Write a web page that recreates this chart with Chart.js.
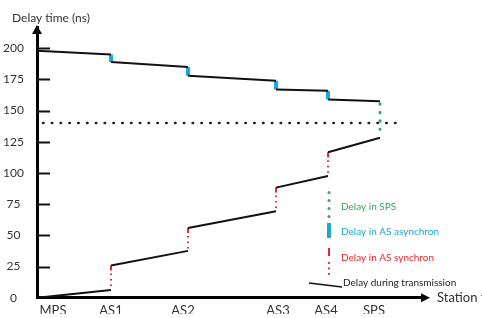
<!DOCTYPE html>
<html lang="en">
<head>
    <meta charset="UTF-8">
    <title>Delay time</title>
    <script src="https://cdn.jsdelivr.net/npm/chart.js"></script>
    <style>
        html, body { margin: 0; padding: 0; background: #fff; }
        #wrap { width: 482px; height: 318px; }
    </style>
</head>
<body>
    <div id="wrap"><canvas id="delayChart"></canvas></div>
    <script>
        // stations along the x axis (distance from MPS)
        const stations = ['MPS', 'AS1', 'AS2', 'AS3', 'AS4', 'SPS'];
        const stationX = [0, 74, 151, 239, 291, 343];
        const labelX = [16, 74, 146, 241, 289, 337];
        const yTicks = [0, 25, 50, 75, 100, 125, 150, 175, 200];

        // upper branch: value leaving a station / arriving at the next one
        const upperStart = [198, 189, 178, 167, 159];
        const upperEnd = [195, 185, 174, 166, 157.5];
        // lower branch
        const lowerStart = [0, 25.8, 56, 88.3, 116.7];
        const lowerEnd = [6.3, 37.6, 69.4, 97.6, 128.3];
        // delay in SPS (green) and the dotted reference level
        const spsTop = 155.5;
        const spsBottom = 135;
        const refLevel = 140;
        const refFrom = 6;
        const refTo = 363;

        const legendItems = [
            { label: 'Delay in SPS', color: '#2bab62' },
            { label: 'Delay in AS asynchron', color: '#1ca6e0' },
            { label: 'Delay in AS synchron', color: '#e5282b' },
            { label: 'Delay during transmission', color: '#222' }
        ];

        // build gapped point lists
        function segs(starts, ends) {
            const pts = [];
            for (let i = 0; i < starts.length; i++) {
                pts.push({x: stationX[i], y: starts[i]});
                pts.push({x: stationX[i + 1], y: ends[i]});
                pts.push({x: stationX[i + 1], y: null});
            }
            return pts;
        }
        // vertical jumps at AS1..AS4, from -> to
        function jumps(from, to) {
            const pts = [];
            for (let i = 1; i <= 4; i++) {
                pts.push({x: stationX[i], y: from[i]});
                pts.push({x: stationX[i], y: to[i]});
                pts.push({x: stationX[i], y: null});
            }
            return pts;
        }
        const endsShift = [null].concat(upperEnd);   // arriving value at station i
        const lowEndsShift = [null].concat(lowerEnd);

        const decor = {
            id: 'decor',
            afterDraw(chart) {
                const ctx = chart.ctx;
                const xs = chart.scales.x, ys = chart.scales.y;
                const L = chart.chartArea.left, B = chart.chartArea.bottom, T = chart.chartArea.top, R = chart.chartArea.right;
                ctx.save();
                // inward tick marks
                ctx.strokeStyle = '#111';
                ctx.lineWidth = 2;
                yTicks.forEach(v => {
                    if (v === 0) return;
                    const y = Math.round(ys.getPixelForValue(v)) + 0.5;
                    ctx.beginPath();
                    ctx.moveTo(L, y);
                    ctx.lineTo(L + 13, y);
                    ctx.stroke();
                });
                // arrow heads
                ctx.fillStyle = '#000';
                ctx.beginPath();
                ctx.moveTo(L, T - 2);
                ctx.lineTo(L - 5, T + 7);
                ctx.lineTo(L + 5, T + 7);
                ctx.closePath();
                ctx.fill();
                ctx.beginPath();
                ctx.moveTo(R + 8, B);
                ctx.lineTo(R - 1, B - 4.5);
                ctx.lineTo(R - 1, B + 4.5);
                ctx.closePath();
                ctx.fill();
                // axis titles
                ctx.fillStyle = '#333';
                ctx.font = '12px Lato';
                ctx.textBaseline = 'middle';
                ctx.fillText('Delay time (ns)', 12, 18);
                ctx.font = '13px Lato';
                ctx.fillText('Station type', R + 15, B);

                // legend, hung under AS4
                const lx = xs.getPixelForValue(stationX[4]) + 1;
                ctx.fillStyle = legendItems[0].color;
                [192.5, 200.5, 208.5, 216.5].forEach(y => {
                    ctx.beginPath();
                    ctx.arc(lx, y, 1.5, 0, Math.PI * 2);
                    ctx.fill();
                });
                ctx.fillStyle = legendItems[1].color;
                ctx.fillRect(lx - 2, 223, 4, 15);
                ctx.fillStyle = legendItems[2].color;
                ctx.fillRect(lx - 1, 248, 2, 8);
                [262, 267.5, 273].forEach(y => ctx.fillRect(lx - 1, y, 2, 1.8));
                ctx.strokeStyle = '#111';
                ctx.lineWidth = 1.5;
                ctx.beginPath();
                ctx.moveTo(lx - 20, 283);
                ctx.lineTo(lx + 13, 287);
                ctx.stroke();

                ctx.font = '10px Lato';
                const ty = [207, 232, 258, 283];
                legendItems.forEach((it, i) => {
                    ctx.fillStyle = it.color;
                    ctx.fillText(it.label, lx + (i === 3 ? 14 : 12), ty[i]);
                });
                ctx.restore();
            }
        };

        Chart.defaults.font.family = 'Lato';

        const ctx = document.getElementById('delayChart').getContext('2d');
        const delayChart = new Chart(ctx, {
            type: 'line',
            data: {
                datasets: [
                    {   // reference level
                        data: [{x: refFrom, y: refLevel}, {x: refTo, y: refLevel}],
                        borderColor: '#222',
                        borderWidth: 2.5,
                        borderDash: [0.5, 8.3],
                        borderCapStyle: 'round'
                    },
                    {   // upper transmission
                        data: segs(upperStart, upperEnd),
                        borderColor: '#111',
                        borderWidth: 2
                    },
                    {   // lower transmission
                        data: segs(lowerStart, lowerEnd),
                        borderColor: '#111',
                        borderWidth: 2
                    },
                    {   // AS asynchron
                        data: jumps(endsShift, upperStart),
                        borderColor: '#1ca6e0',
                        borderWidth: 4
                    },
                    {   // AS synchron (drawn top -> bottom)
                        data: jumps(lowerStart, lowEndsShift),
                        borderColor: '#e5282b',
                        borderWidth: 2,
                        borderDash: [5, 3, 1.5, 4, 1.5, 4, 1.5, 4, 1.5, 4]
                    },
                    {   // SPS
                        data: [{x: stationX[5], y: spsTop}, {x: stationX[5], y: spsBottom}],
                        borderColor: '#2bab62',
                        borderWidth: 3,
                        borderDash: [0.5, 8],
                        borderCapStyle: 'round'
                    }
                ]
            },
            options: {
                responsive: true,
                maintainAspectRatio: false,
                animation: false,
                spanGaps: false,
                elements: {
                    point: { radius: 0 },
                    line: { tension: 0 }
                },
                layout: { padding: { top: 27, right: 60, left: 0, bottom: 0 } },
                plugins: {
                    legend: { display: false },
                    tooltip: { enabled: false }
                },
                scales: {
                    x: {
                        type: 'linear',
                        min: 0,
                        max: 385,
                        border: { color: '#000', width: 3 },
                        grid: { drawOnChartArea: false, drawTicks: false },
                        afterBuildTicks: s => { s.ticks = labelX.map(v => ({value: v})); },
                        afterFit: s => { s.height = 16; },
                        ticks: {
                            autoSkip: false,
                            maxRotation: 0,
                            padding: 5,
                            color: '#333',
                            font: { size: 13 },
                            callback: (v, i) => stations[i]
                        }
                    },
                    y: {
                        min: 0,
                        max: 217,
                        border: { color: '#000', width: 3 },
                        grid: { drawOnChartArea: false, drawTicks: false },
                        afterBuildTicks: s => { s.ticks = yTicks.map(v => ({value: v})); },
                        afterFit: s => { s.width = 37; },
                        ticks: {
                            padding: 13,
                            crossAlign: 'center',
                            color: '#333',
                            font: { size: 12 }
                        }
                    }
                }
            },
            plugins: [decor]
        });
    </script>
</body>
</html>
